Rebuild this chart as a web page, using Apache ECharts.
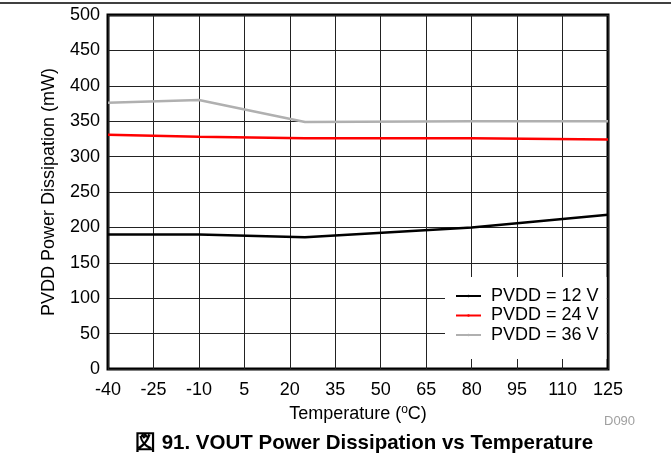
<!DOCTYPE html>
<html>
<head>
<meta charset="utf-8">
<script src="https://cdn.jsdelivr.net/npm/echarts@6/dist/echarts.min.js"></script>
<style>
html,body{margin:0;padding:0;background:#fff;}
#c{width:671px;height:462px;}
</style>
</head>
<body>
<div id="c"></div>
<script>
// Data
var temps12 = [-40, -10, 25, 80, 125];
var pvdd12 = [190, 190, 186, 200, 218];
var temps24 = [-40, -10, 25, 80, 125];
var pvdd24 = [331, 328, 326, 326, 324];
var temps36 = [-40, -10, 25, 80, 125];
var pvdd36 = [376, 380, 349, 350, 350];
var seriesNames = ['PVDD = 12 V', 'PVDD = 24 V', 'PVDD = 36 V'];
var xMinT = -40, xMaxT = 125, xStep = 15;
var yMin = 0, yMax = 500, yStep = 50;

function pairs(ts, vs){ return ts.map(function(t,i){ return [t - xMinT, vs[i]]; }); }

var FONT = '"Liberation Sans", Arial, sans-serif';
var chart = echarts.init(document.getElementById('c'), null, {renderer:'canvas'});
chart.setOption({
  animation:false,
  backgroundColor:'#fff',
  textStyle:{fontFamily:FONT},
  grid:{left:108, right:63, top:15, bottom:93, show:true, borderColor:'#000', borderWidth:3, backgroundColor:'transparent'},
  xAxis:{
    type:'value', min:0, max:xMaxT - xMinT, interval:xStep,
    axisLine:{show:false}, axisTick:{show:false},
    splitLine:{show:true, lineStyle:{color:'#222', width:1}},
    axisLabel:{margin:12, fontSize:18, color:'#000', fontFamily:FONT, formatter:function(v){ return String(v + xMinT); }},
    name:'{a|Temperature (}{s|o}{a|C)}', nameLocation:'middle', nameGap:34,
    nameTextStyle:{rich:{a:{fontSize:18, color:'#000', fontFamily:FONT}, s:{fontSize:12, color:'#000', fontFamily:FONT, verticalAlign:'top', padding:[0,0,9,0]}}}
  },
  yAxis:{
    type:'value', min:yMin, max:yMax, interval:yStep,
    axisLine:{show:false}, axisTick:{show:false},
    splitLine:{show:true, lineStyle:{color:'#222', width:1}},
    axisLabel:{margin:8, fontSize:18, color:'#000', fontFamily:FONT},
    name:'PVDD Power Dissipation (mW)', nameLocation:'middle', nameGap:50,
    nameTextStyle:{fontSize:18, color:'#000', fontFamily:FONT}
  },
  legend:{
    orient:'vertical', left:445, top:277, itemGap:1.5, itemWidth:25, itemHeight:3,
    backgroundColor:'#fff', padding:[10,8,15,10],
    textStyle:{fontSize:18, color:'#000', fontFamily:FONT, lineHeight:18, padding:[0,0,0,5]},
    data:seriesNames
  },
  series:[
    {name:seriesNames[0], type:'line', symbol:'none', data:pairs(temps12,pvdd12), lineStyle:{color:'#000', width:2.5}, itemStyle:{color:'#000'}, z:3},
    {name:seriesNames[1], type:'line', symbol:'none', data:pairs(temps24,pvdd24), lineStyle:{color:'#ff0000', width:2.5}, itemStyle:{color:'#ff0000'}, z:3},
    {name:seriesNames[2], type:'line', symbol:'none', data:pairs(temps36,pvdd36), lineStyle:{color:'#b0b0b0', width:2.5}, itemStyle:{color:'#b0b0b0'}, z:3}
  ],
  graphic:[
    {type:'line', shape:{x1:0, y1:3, x2:671, y2:3}, style:{stroke:'#000', lineWidth:1.5}},
    {type:'text', x:604, y:421, style:{text:'D090', fill:'#a0a0a0', font:'13px ' + FONT, textVerticalAlign:'middle'}},
    {type:'text', x:364, y:443, style:{text:'図 91. VOUT Power Dissipation vs Temperature', fill:'#000', font:'bold 20.5px ' + FONT, textAlign:'center', textVerticalAlign:'middle'}}
  ]
});
</script>
</body>
</html>
